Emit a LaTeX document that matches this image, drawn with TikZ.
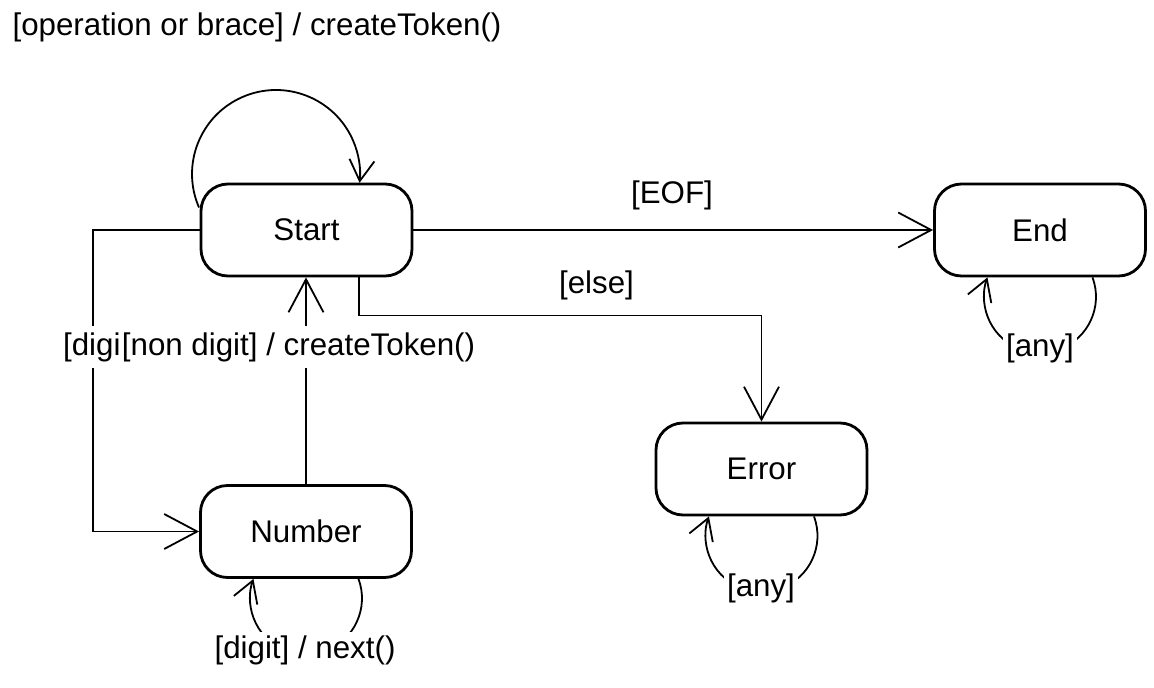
\documentclass[tikz,border=0pt]{standalone}
\usepackage{fontspec}
\setmainfont{Liberation Sans}
\usetikzlibrary{arrows.meta}
\newcommand\dfont{\fontsize{31.3}{36}\selectfont}
\begin{document}
\begin{tikzpicture}[x=1pt,y=1pt,
  stbox/.style={draw, line width=2.8pt, rounded corners=27pt, minimum width=211pt, minimum height=92pt, font=\dfont, inner sep=0pt},
  lab/.style={fill=white, font=\dfont, inner sep=3pt},
  vlab/.style={lab, inner ysep=6pt},
  arr/.style={line width=1.8pt, -{Straight Barb[length=33pt, width=35pt, line width=1.8pt]}},
  selfarr/.style={line width=1.8pt, -{Straight Barb[length=21pt, width=25pt, line width=1.8pt]}}]
\useasboundingbox (0,0) rectangle (1154,-688);
\fill[white] (0,0) rectangle (1154,-688);
% states
\node[stbox] (start) at (306.5,-230) {Start};
\node[stbox] (end)   at (1040,-230)  {End};
\node[stbox] (err)   at (761.5,-469) {Error};
\node[stbox] (num)   at (306,-531.5) {Number};
% transitions
\draw[arr] (start.east) -- (end.west);
\draw[arr] ([xshift=52.5pt]start.south) -- ++(0,-38) -| (err.north);
\draw[arr] (start.west) -- ++(-107,0) |- (num.west);
\draw[arr] (num.north) -- (num.north |- start.south);
% self loops
\draw[selfarr] ([shift={(-107.5,22.5)}]start.center) arc[start angle=203.5, end angle=-6, radius=84];
\draw[selfarr] ([xshift=52.5pt]num.south) arc[start angle=20.3, end angle=-200.3, radius=56];
\draw[selfarr] ([xshift=52.5pt]err.south) arc[start angle=20.3, end angle=-200.3, radius=56];
\draw[selfarr] ([xshift=52.5pt]end.south) arc[start angle=20.3, end angle=-200.3, radius=56];
% labels
\node[lab] (lop) at (257,-27.5) {[operation or brace] / createToken()};
\node[lab] (leof) at (672,-195) {[EOF]};
\node[lab] (lelse) at (596.5,-285) {[else]};
\node[vlab] (ldig) at (100.5,-347) {[digit]};
\node[vlab] (lnon) at (298.5,-347) {[non digit] / createToken()};
\node[lab] (lnext) at (305,-650) {[digit] / next()};
\node[lab] (lany1) at (761,-588) {[any]};
\node[lab] (lany2) at (1040,-348) {[any]};
\end{tikzpicture}
\end{document}
